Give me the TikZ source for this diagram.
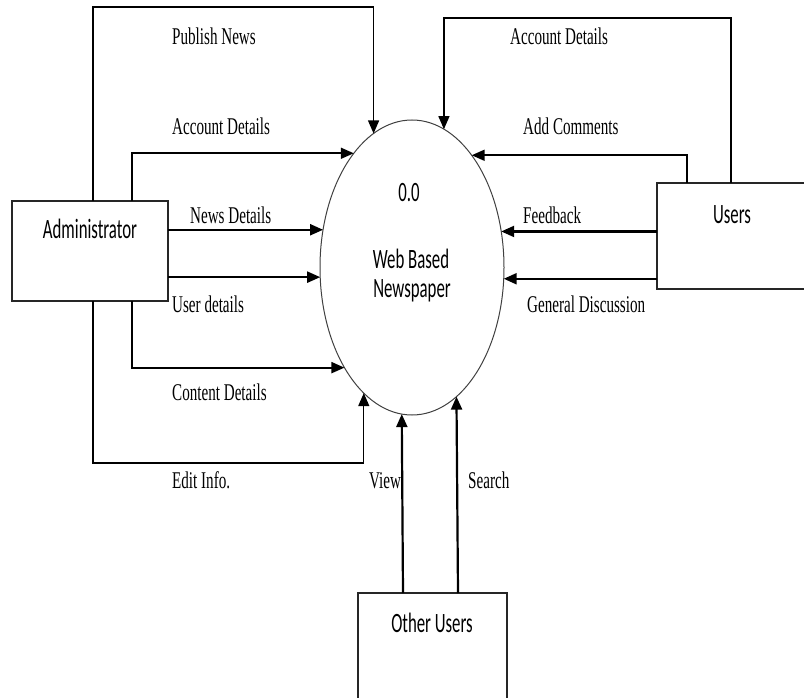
\documentclass[tikz,border=0pt]{standalone}
\usepackage{fontspec}
\setmainfont{Liberation Serif}[FakeStretch=0.63]
\newfontfamily\boxfont{Carlito}[FakeStretch=0.6]
\usetikzlibrary{shapes.geometric,arrows.meta}
\begin{document}
\begin{tikzpicture}[x=1pt,y=-1pt,
  entity/.style={draw=black!85,line width=1.2pt,inner sep=0pt,outer sep=0pt},
  process/.style={ellipse,draw=black!75,line width=1pt,inner sep=0pt,outer sep=0pt,minimum width=184pt,minimum height=295pt},
  boxtext/.style={anchor=base,inner sep=0pt,font=\boxfont\fontsize{28}{31}\selectfont},
  flowlabel/.style={anchor=base west,inner sep=0pt,font=\fontsize{24}{28}\selectfont},
  tip/.style={-{Triangle[length=13pt,width=11pt]}},
  thinflow/.style={tip,line width=1.2pt},
  midflow/.style={tip,line width=1.8pt},
  thickflow/.style={tip,line width=2.2pt}]
\useasboundingbox (0,0) rectangle (804,698);
\clip (0,0) rectangle (804,698);

% entities and process
\node[entity,minimum width=156pt,minimum height=100pt] (admin) at (90,251) {};
\node[entity,minimum width=156pt,minimum height=106pt] (users) at (735,236) {};
\node[entity,minimum width=149pt,minimum height=110pt] (other) at (432.5,648) {};
\node[process] (proc) at (412,267.5) {};

\node[boxtext] (admintext) at (90,238) {Administrator};
\node[boxtext] (userstext) at (732,223) {Users};
\node[boxtext] (othertext) at (432,632) {Other Users};
\node[boxtext] (procnum) at (409,202) {0.0};
\node[boxtext] (procname1) at (411,268) {Web Based};
\node[boxtext] (procname2) at (412,298) {Newspaper};

% administrator flows
\draw[thinflow] ([xshift=81pt]admin.north west) -- ++(0,-194) -| (proc.106.27);
\draw[midflow] ([xshift=120pt]admin.north west) |- (proc.117.87);
\draw[thickflow] (admin.east |- proc.157.15) -- (proc.157.15);
\draw[thickflow] (admin.east |- proc.186.52) -- (proc.186.52);
\draw[midflow] ([xshift=120pt]admin.south west) |- (proc.236.19);
\draw[thinflow] ([xshift=81pt]admin.south west) -- ++(0,162) -| (proc.249.12);

% users flows
\draw[thinflow] ([xshift=74pt]users.north west) -- ++(0,-165) -| (proc.77.42);
\draw[midflow] ([xshift=30pt]users.north west) |- (proc.62.13);
\draw[thickflow] (users.west |- proc.22.85) -- (proc.22.85);
\draw[thickflow] (users.west |- proc.353.48) -- (proc.353.48);

% other users flows
\draw[thickflow] ([xshift=45pt]other.north west) -- (proc.266.49);
\draw[thickflow] ([xshift=100pt]other.north west) -- (proc.289.81);

% labels
\node[flowlabel] (lpublish) at (172,45) {Publish News};
\node[flowlabel] (lacc1) at (172,135) {Account Details};
\node[flowlabel] (lnews) at (190,223) {News Details};
\node[flowlabel] (luser) at (172,312) {User details};
\node[flowlabel] (lcontent) at (172,400) {Content Details};
\node[flowlabel] (ledit) at (172,488) {Edit Info.};
\node[flowlabel] (lview) at (369,488) {View};
\node[flowlabel] (lsearch) at (468,488) {Search};
\node[flowlabel] (lacc2) at (510,45) {Account Details};
\node[flowlabel] (lcomm) at (523,135) {Add Comments};
\node[flowlabel] (lfeed) at (523,223) {Feedback};
\node[flowlabel] (lgen) at (527,312) {General Discussion};
\end{tikzpicture}
\end{document}
